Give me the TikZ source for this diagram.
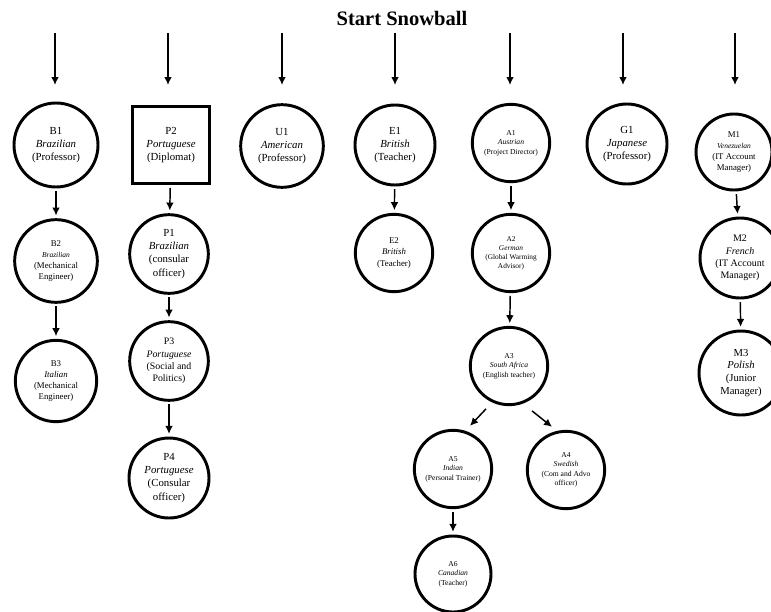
\documentclass[tikz,border=0pt]{standalone}
\usepackage{fontspec}
\setmainfont{Liberation Serif}
\usetikzlibrary{arrows.meta}

\tikzset{
  person/.style={circle, draw, line width=2.2pt, minimum size=60pt, inner sep=0pt,
    align=center, font=\fontsize{8.1}{9.8}\selectfont},
  mid/.style={font=\fontsize{6.6}{8.4}\selectfont},
  small/.style={font=\fontsize{5.7}{7.1}\selectfont},
  seed/.style={->, line width=1.1pt},
  flow/.style={->, line width=1.1pt, shorten <=2pt, shorten >=2pt},
}

\begin{document}
\begin{tikzpicture}[x=0.75pt,y=-0.75pt,>={Latex[length=6pt,width=5.8pt]}]
\useasboundingbox (0,0) rectangle (771,611);
\node [font=\fontsize{15.4}{18}\selectfont\bfseries] (title) at (402,18) {Start Snowball};

% first contacts
\node [person, minimum size=63pt] (B1) at (56,145) {B1\\\textit{Brazilian}\\(Professor)};
\node [person, rectangle, minimum size=58pt] (P2) at (171,145) {P2\\\textit{Portuguese}\\(Diplomat)};
\node [person, minimum size=62pt] (U1) at (282,146) {U1\\\textit{American}\\(Professor)};
\node [person] (E1) at (395,145) {E1\\\textit{British}\\(Teacher)};
\node [person, small, minimum size=58pt] (A1) at (511,143) {A1\\\textit{Austrian}\\(Project Director)};
\node [person] (G1) at (627,144) {G1\\\textit{Japanese}\\(Professor)};
\node [person, mid, minimum size=57pt] (M1) at (734,152) {M1\\{\fontsize{5.6}{7}\selectfont\textit{Venezuelan}}\\(IT Account\\Manager)};

\foreach \n/\x in {B1/55,P2/168,U1/282,E1/395,A1/510,G1/623,M1/735}
{
	\coordinate (t\n) at (\x,33);
	\coordinate (h\n) at (\x,85);
	\draw [seed] (t\n) -- (h\n);
}

% referrals
\node [person, mid, minimum size=62pt] (B2) at (56,261) {B2\\{\fontsize{5.6}{7}\selectfont\textit{Brazilian}}\\(Mechanical\\Engineer)};
\node [person, mid, minimum size=61pt] (B3) at (56,381) {B3\\\textit{Italian}\\(Mechanical\\Engineer)};
\node [person, minimum size=59pt] (P1) at (169,254) {P1\\\textit{Brazilian}\\(consular\\officer)};
\node [person, minimum size=59pt, font=\fontsize{7.4}{9.2}\selectfont] (P3) at (169,361) {P3\\\textit{Portuguese}\\(Social and\\Politics)};
\node [person] (P4) at (169,478) {P4\\\textit{Portuguese}\\(Consular\\officer)};
\node [person, mid, minimum size=58pt] (E2) at (394,253) {E2\\\textit{British}\\(Teacher)};
\node [person, small, minimum size=58pt, font=\fontsize{5.5}{6.8}\selectfont] (A2) at (511,253) {A2\\\textit{German}\\(Global Warming\\Advisor)};
\node [person, small, minimum size=58pt] (A3) at (509,366) {A3\\\textit{South Africa}\\(English teacher)};
\node [person, small, minimum size=58pt] (A5) at (453,469) {A5\\\textit{Indian}\\(Personal Trainer)};
\node [person, small, minimum size=58pt] (A4) at (566,470) {A4\\\textit{Swedish}\\(Com and Advo\\officer)};
\node [person, small, minimum size=57pt] (A6) at (453,574) {A6\\\textit{Canadian}\\(Teacher)};
\node [person, font=\fontsize{7.5}{9.2}\selectfont] (M2) at (740,258) {M2\\\textit{French}\\(IT Account\\Manager)};
\node [person, font=\fontsize{8}{9.6}\selectfont, minimum size=63pt] (M3) at (741,373) {M3\\\textit{Polish}\\(Junior\\Manager)};

\draw [flow] (B1) -- (B2);
\draw [flow] (B2) -- (B3);
\draw [flow] (P2) -- (P1);
\draw [flow] (P1) -- (P3);
\draw [flow] (P3) -- (P4);
\draw [flow] (E1) -- (E2);
\draw [flow] (A1) -- (A2);
\draw [flow] (A2) -- (A3);
\draw [seed] ([shift={(0,10)}]A3.235) -- ([shift={(17,-3)}]A5.north);
\draw [seed] ([shift={(0,12)}]A3.305) -- ([shift={(-14,-3)}]A4.north);
\draw [flow] (A5) -- (A6);
\draw [flow] (M1) -- (M2);
\draw [flow] (M2) -- (M3);
\end{tikzpicture}
\end{document}
